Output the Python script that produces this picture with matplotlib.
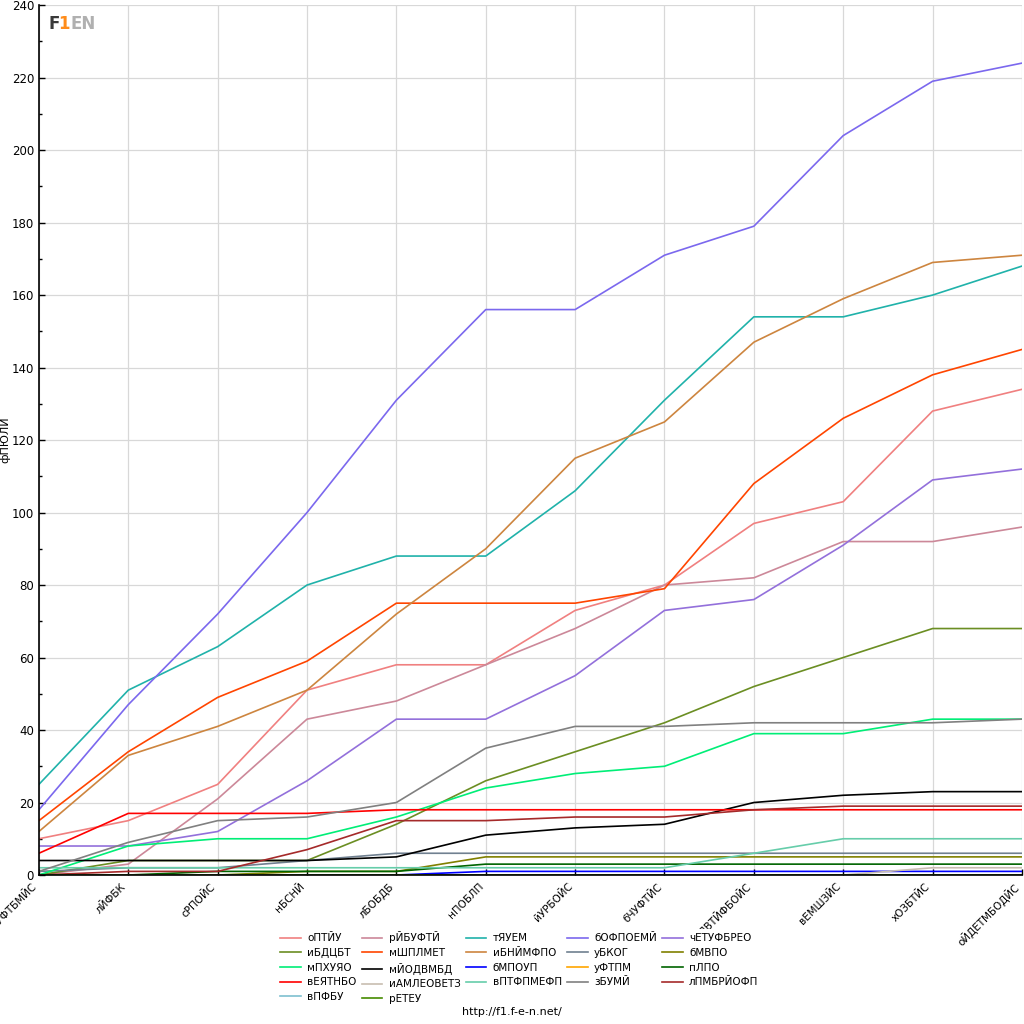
import matplotlib.pyplot as plt
import matplotlib.transforms as mtransforms
import numpy as np

# Categories (rounds)
rounds = ['бЧУФТБМЙС', 'лЙФБК', 'сРПОЙС', 'нБСНЙ', 'лБОБДБ', 'нПОБЛП',
          'йУРБОЙС', 'бЧУФТЙС', 'чЕМЙЛПВТЙФБОЙС', 'вЕМШЗЙС', 'хОЗБТЙС',
          'оЙДЕТМБОДЙС']

# Cumulative points per driver
norris = [10, 15, 25, 51, 58, 58, 73, 80, 97, 103, 128, 134]
piastri = [0, 3, 21, 43, 48, 58, 68, 80, 82, 92, 92, 96]
russell = [25, 51, 63, 80, 88, 88, 106, 131, 154, 154, 160, 168]
antonelli = [18, 47, 72, 100, 131, 156, 156, 171, 179, 204, 219, 224]
verstappen = [8, 8, 12, 26, 43, 43, 55, 73, 76, 91, 109, 112]
hadjar = [0, 4, 4, 4, 14, 26, 34, 42, 52, 60, 68, 68]
leclerc = [15, 34, 49, 59, 75, 75, 75, 79, 108, 126, 138, 145]
hamilton = [12, 33, 41, 51, 72, 90, 115, 125, 147, 159, 169, 171]
sainz = [1, 2, 2, 4, 6, 6, 6, 6, 6, 6, 6, 6]
albon = [0, 0, 0, 1, 1, 5, 5, 5, 5, 5, 5, 5]
lawson = [0, 8, 10, 10, 16, 24, 28, 30, 39, 39, 43, 43]
lindblad = [4, 4, 4, 4, 5, 11, 13, 14, 20, 22, 23, 23]
alonso = [0, 0, 0, 0, 0, 1, 1, 1, 1, 1, 1, 1]
stroll = [0, 0, 0, 0, 0, 0, 0, 0, 0, 0, 0, 0]
ocon = [0, 0, 1, 1, 1, 3, 3, 3, 3, 3, 3, 3]
bearman = [6, 17, 17, 17, 18, 18, 18, 18, 18, 18, 18, 18]
hulkenberg = [0, 0, 0, 0, 0, 0, 0, 0, 0, 0, 2, 2]
bortoleto = [2, 2, 2, 2, 2, 2, 2, 2, 6, 10, 10, 10]
gasly = [1, 9, 15, 16, 20, 35, 41, 41, 42, 42, 42, 43]
colapinto = [0, 1, 1, 7, 15, 15, 16, 16, 18, 19, 19, 19]
bottas = [0, 0, 0, 0, 0, 0, 0, 0, 0, 0, 0, 0]
perez = [0, 0, 0, 0, 0, 0, 0, 0, 0, 0, 0, 0]

names = ['оПТЙУ', 'рЙБУФТЙ', 'тЯУЕМ', 'бОФПОЕМЙ', 'чЕТУФБРЕО',
         'иБДЦБТ', 'мШПЛМЕТ', 'иБНЙМФПО', 'уБКОГ', 'бМВПО',
         'мПХУЯО', 'мЙОДВМБД', 'бМПОУП', 'уФТПМ', 'пЛПО',
         'вЕЯТНБО', 'иАМЛЕОВЕТЗ', 'вПТФПМЕФП', 'зБУМЙ', 'лПМБРЙОФП',
         'вПФБУ', 'рЕТЕУ']
series = [norris, piastri, russell, antonelli, verstappen,
          hadjar, leclerc, hamilton, sainz, albon,
          lawson, lindblad, alonso, stroll, ocon,
          bearman, hulkenberg, bortoleto, gasly, colapinto,
          bottas, perez]
colors = ['#f08080', '#cc8899', '#20b2aa', '#7b68ee', '#9370db',
          '#6b8e23', '#ff4500', '#cd853f', '#708090', '#808000',
          '#00ee77', '#000000', '#0000ff', '#ffa500', '#006400',
          '#ff0000', '#c8bdb0', '#66cdaa', '#808080', '#a52a2a',
          '#7ec0d0', '#458b00']

x = np.arange(len(rounds))

fig = plt.figure(figsize=(10.24, 10.24), dpi=100)
ax = fig.add_axes([0.038, 0.1455, 0.96, 0.8495])

handles = []
for name, vals, col in zip(names, series, colors):
    h, = ax.plot(x, vals, color=col, linewidth=1.2, label=name)
    handles.append(h)

ax.set_xlim(0, len(rounds) - 1)
ax.set_ylim(0, 240)
ax.set_yticks(np.arange(0, 241, 20))
ax.set_yticks(np.arange(10, 240, 20), minor=True)
ax.set_xticks(x)
ax.set_xticklabels([])
# rotated category labels, placed just left of each tick
lab_tr = ax.get_xaxis_transform() + mtransforms.ScaledTranslation(-0.04, -0.1, fig.dpi_scale_trans)
for xi, lab in zip(x, rounds):
    ax.text(xi, 0, lab, transform=lab_tr, rotation=45, ha='right', va='center',
            rotation_mode='anchor', fontsize=7.5, clip_on=False)
ax.tick_params(axis='y', labelsize=8.5, direction='in', length=4, width=1)
ax.tick_params(axis='y', which='minor', direction='in', length=2.5, width=1)
ax.tick_params(axis='x', direction='in', length=4, width=1)
ax.grid(True, color='#d8d8d8', linewidth=0.9)
ax.set_axisbelow(True)
for s in ['top', 'right']:
    ax.spines[s].set_visible(False)
for s in ['left', 'bottom']:
    ax.spines[s].set_linewidth(1.2)
ax.set_ylabel('фПЮЛЙ', fontsize=8)
ax.yaxis.set_label_coords(-0.029, 0.5)

# logo
fig.text(0.0469, 0.9766, 'F', color='#3a3a3a', fontsize=12, fontweight='bold', va='center')
fig.text(0.0570, 0.9766, '1', color='#ff8c1a', fontsize=12, fontweight='bold', va='center')
fig.text(0.0690, 0.9766, 'EN', color='#b0b0b0', fontsize=12, fontweight='bold', va='center')

# legend: row-wise order in 5 columns
ncol = 5
order = []
for c in range(ncol):
    for r in range(5):
        i = r * ncol + c
        if i < len(handles):
            order.append(i)
leg = fig.legend([handles[i] for i in order], [names[i] for i in order],
                 loc='center', bbox_to_anchor=(0.507, 0.055), ncol=ncol,
                 fontsize=7.5, frameon=True, edgecolor='none', facecolor='white',
                 framealpha=1, handlelength=2.0, columnspacing=0.5,
                 labelspacing=0.45, handletextpad=0.6, borderpad=0.2)

fig.text(0.5, 0.007, 'http://f1.f-e-n.net/', ha='center', va='bottom', fontsize=8)

plt.savefig('out.png', dpi=100)
